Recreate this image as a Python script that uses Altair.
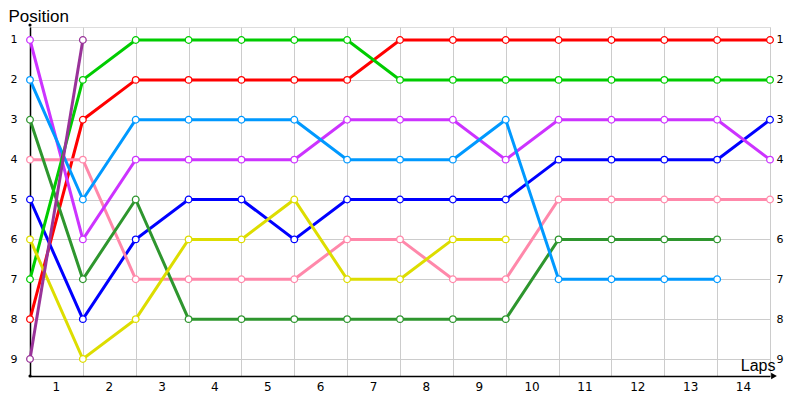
import altair as alt
import pandas as pd

laps = list(range(15))
positions = [1, 2, 3, 4, 5, 6, 7, 8, 9]

# Series data (position per lap, lap 0 = grid start)
red = [8, 3, 2, 2, 2, 2, 2, 1, 1, 1, 1, 1, 1, 1, 1]
blue = [5, 8, 6, 5, 5, 6, 5, 5, 5, 5, 4, 4, 4, 4, 3]
pink = [4, 4, 7, 7, 7, 7, 6, 6, 7, 7, 5, 5, 5, 5, 5]
dark_green = [3, 7, 5, 8, 8, 8, 8, 8, 8, 8, 6, 6, 6, 6]
magenta = [1, 6, 4, 4, 4, 4, 3, 3, 3, 4, 3, 3, 3, 3, 4]
light_blue = [2, 5, 3, 3, 3, 3, 4, 4, 4, 3, 7, 7, 7, 7]
green = [7, 2, 1, 1, 1, 1, 1, 2, 2, 2, 2, 2, 2, 2, 2]
yellow = [6, 9, 8, 6, 6, 5, 7, 7, 6, 6]
dark_purple = [9, 1]

series = [
    ("red", red, "#ff0000"),
    ("blue", blue, "#0000ff"),
    ("pink", pink, "#ff88aa"),
    ("dark_green", dark_green, "#2e962e"),
    ("magenta", magenta, "#cc33ff"),
    ("light_blue", light_blue, "#0099ff"),
    ("green", green, "#00cc00"),
    ("yellow", yellow, "#dddd00"),
    ("dark_purple", dark_purple, "#993399"),
]

W, H = 740, 349
FONT = "DejaVu Sans"

xs = alt.Scale(domain=[0, 14], nice=False, zero=False)
ys = alt.Scale(domain=[0.674, 9.426], reverse=True, nice=False, zero=False)

x_axis = alt.Axis(
    values=laps, grid=True, gridColor="#cccccc", gridWidth=1, ticks=False,
    domain=True, domainColor="#000000", domainWidth=1.5,
    labelExpr="datum.value == 0 ? '' : datum.label",
    labelOffset=-27, labelPadding=5, labelFontSize=12, labelFont=FONT,
    labelColor="#000000", labelFlush=False,
    title="Laps", titleX=745, titleY=-6, titleAlign="right",
    titleBaseline="alphabetic", titleFontSize=16, titleFontWeight="normal",
    titleFont="Liberation Sans", titleColor="#000000",
)
y_left = alt.Axis(
    values=positions, orient="left", grid=True, gridColor="#cccccc", gridWidth=1,
    ticks=False, domain=True, domainColor="#000000", domainWidth=1.5,
    labelPadding=13, labelFontSize=11, labelFont=FONT, labelColor="#000000",
    labelFlush=False,
    title="Position", titleAngle=0, titleX=-22, titleY=-6, titleAlign="left",
    titleBaseline="alphabetic", titleFontSize=17, titleFontWeight="normal",
    titleFont="Liberation Sans", titleColor="#000000",
)
y_right = alt.Axis(
    values=positions, orient="right", grid=False, ticks=False, domain=False,
    labelPadding=6, labelFontSize=11, labelFont=FONT, labelColor="#000000",
    labelFlush=False, title="",
)

layers = []
for i, (name, vals, col) in enumerate(series):
    df = pd.DataFrame({"lap": laps[:len(vals)], "position": vals, "driver": name})
    line = alt.Chart(df).mark_line(color=col, strokeWidth=3).encode(
        x=alt.X("lap:Q", scale=xs, axis=x_axis if i == 0 else None),
        y=alt.Y("position:Q", scale=ys, axis=y_left if i == 0 else None),
    )
    pts = alt.Chart(df).mark_circle(
        fill="white", stroke=col, strokeWidth=1.3, size=44, opacity=1
    ).encode(
        x=alt.X("lap:Q", scale=xs, axis=None),
        y=alt.Y("position:Q", scale=ys, axis=y_right if i == 0 else None),
    )
    layers += [line, pts]

deco = pd.DataFrame({"k": [0]})
arrow = alt.Chart(deco).mark_point(
    shape="triangle-right", filled=True, color="#000000", size=45, opacity=1
).encode(x=alt.value(744), y=alt.value(H))
dot_top = alt.Chart(deco).mark_circle(color="#000000", size=10, opacity=1).encode(
    x=alt.value(0), y=alt.value(-2))
dot_bot = alt.Chart(deco).mark_circle(color="#000000", size=10, opacity=1).encode(
    x=alt.value(0), y=alt.value(H))

chart = alt.layer(*layers, arrow, dot_top, dot_bot).resolve_axis(
    x="independent", y="independent"
).properties(
    width=W, height=H,
    padding={"left": 22, "top": 19, "right": 22, "bottom": 20},
    autosize=alt.AutoSizeParams(type="none"),
).configure_view(strokeWidth=0).configure(background="white")

chart.save("out.html", embed_options={"renderer": "svg", "actions": False})
